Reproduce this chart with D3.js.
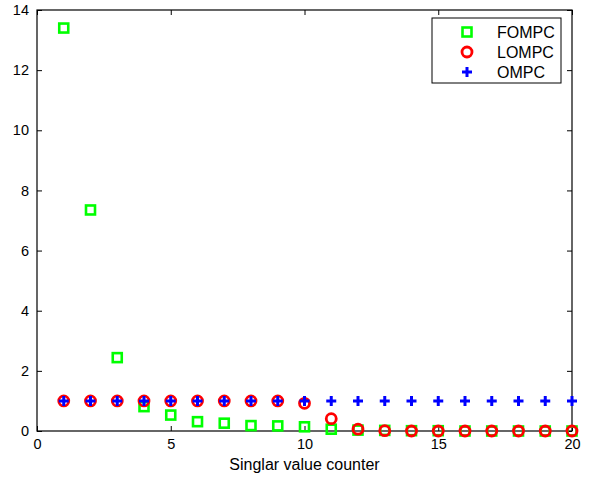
<!DOCTYPE html>
<html><head><meta charset="utf-8">
<script src="https://cdn.jsdelivr.net/npm/d3@7"></script>
<style>body{margin:0;background:#fff}svg{display:block}text{font-family:"Liberation Sans",Arial,sans-serif}</style>
</head><body>
<script>
const xs = d3.range(1, 21);
const fompc = [13.4, 7.35, 2.44, 0.81, 0.53, 0.31, 0.26, 0.18, 0.17, 0.14, 0.06, 0.03, 0.02, 0.01, 0.01, 0.0, 0.0, 0.0, 0.0, 0.0];
const lompc = [1, 1, 1, 1, 1, 1, 1, 1, 1, 0.92, 0.41, 0.06, 0.01, 0, 0, 0, 0, 0, 0, 0];
const ompc  = [1, 1, 1, 1, 1, 1, 1, 1, 1, 1, 1, 1, 1, 1, 1, 1, 1, 1, 1, 1];
const xTicks = [0, 5, 10, 15, 20];
const yTicks = [0, 2, 4, 6, 8, 10, 12, 14];
const seriesNames = ["FOMPC", "LOMPC", "OMPC"];

const W = 593, H = 481;
const m = {l: 37, r: 21, t: 10, b: 50};
const svg = d3.select("body").append("svg").attr("width", W).attr("height", H);
const x = d3.scaleLinear().domain([0, 20]).range([m.l, W - m.r]);
const y = d3.scaleLinear().domain([0, 14]).range([H - m.b, m.t]);

// axes
const fs = 14.5;
svg.append("g").attr("transform", `translate(0,${H - m.b})`)
  .call(d3.axisBottom(x).tickValues(xTicks).tickSize(-5).tickPadding(8).tickFormat(d3.format("d")))
  .call(g => g.select(".domain").remove())
  .call(g => g.selectAll("text").attr("font-size", fs).attr("fill", "#000").attr("font-family", "Liberation Sans, Arial, sans-serif"));
svg.append("g").attr("transform", `translate(0,${m.t})`)
  .call(d3.axisTop(x).tickValues(xTicks).tickSize(-5).tickFormat(""))
  .call(g => g.select(".domain").remove());
svg.append("g").attr("transform", `translate(${m.l},0)`)
  .call(d3.axisLeft(y).tickValues(yTicks).tickSize(-5).tickPadding(8).tickFormat(d3.format("d")))
  .call(g => g.select(".domain").remove())
  .call(g => g.selectAll("text").attr("font-size", fs).attr("fill", "#000").attr("font-family", "Liberation Sans, Arial, sans-serif"));
svg.append("g").attr("transform", `translate(${W - m.r},0)`)
  .call(d3.axisRight(y).tickValues(yTicks).tickSize(-5).tickFormat(""))
  .call(g => g.select(".domain").remove());
svg.append("rect").attr("x", m.l).attr("y", m.t).attr("width", W - m.r - m.l).attr("height", H - m.b - m.t)
  .attr("fill", "none").attr("stroke", "#000").attr("stroke-width", 1.2);

svg.append("text").attr("x", (m.l + W - m.r) / 2).attr("y", 470).attr("text-anchor", "middle")
  .attr("font-size", 16).text("Singlar value counter");

// markers
function square(g, cx, cy) {
  g.append("rect").attr("x", cx - 4.5).attr("y", cy - 4.5).attr("width", 9).attr("height", 9)
    .attr("fill", "none").attr("stroke", "#00ff00").attr("stroke-width", 2.6);
}
function circle(g, cx, cy) {
  g.append("circle").attr("cx", cx).attr("cy", cy).attr("r", 5)
    .attr("fill", "none").attr("stroke", "#ff0000").attr("stroke-width", 2.8);
}
function plus(g, cx, cy) {
  g.append("path").attr("d", `M${cx - 5},${cy}H${cx + 5}M${cx},${cy - 5}V${cy + 5}`)
    .attr("stroke", "#0000ff").attr("stroke-width", 3).attr("fill", "none");
}
const pts = svg.append("g");
xs.forEach((d, i) => square(pts, x(d), y(fompc[i])));
xs.forEach((d, i) => circle(pts, x(d), y(lompc[i])));
xs.forEach((d, i) => plus(pts, x(d), y(ompc[i])));

// legend
const lg = svg.append("g");
lg.append("rect").attr("x", 432).attr("y", 18).attr("width", 129).attr("height", 65)
  .attr("fill", "#fff").attr("stroke", "#000").attr("stroke-width", 1);
const markers = [square, circle, plus];
seriesNames.forEach((n, i) => {
  const cy = 32 + i * 20;
  markers[i](lg, 467, cy);
  lg.append("text").attr("x", 497).attr("y", cy + 6).attr("font-size", 16).text(n);
});
</script>
</body></html>
